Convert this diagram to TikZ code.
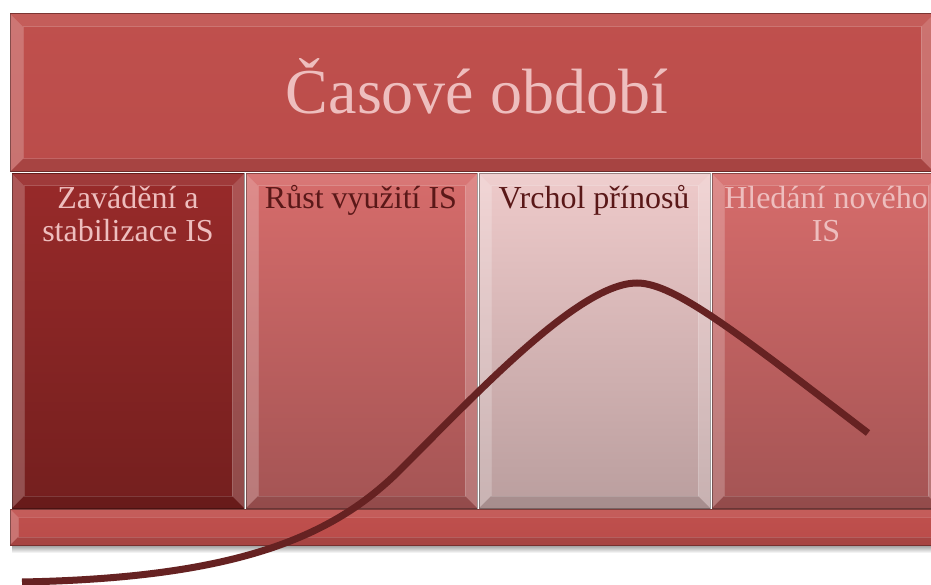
\documentclass[tikz,border=0pt]{standalone}
\usepackage{fontspec}
\setmainfont{Liberation Serif}
\usetikzlibrary{positioning}
\definecolor{bannerred}{RGB}{192,80,77}
\definecolor{bannerlow}{RGB}{186,76,74}
\definecolor{zavtop}{RGB}{152,42,42}
\definecolor{zavlow}{RGB}{116,31,30}
\definecolor{rusttop}{RGB}{214,108,107}
\definecolor{rustlow}{RGB}{164,84,84}
\definecolor{vrchtop}{RGB}{238,202,202}
\definecolor{vrchlow}{RGB}{186,158,158}
\definecolor{lighttext}{RGB}{238,190,190}
\definecolor{darktext}{RGB}{90,24,24}
\definecolor{curvecolor}{RGB}{102,34,34}
% box with a bevelled rim: corners (#1,#2),(#3,#4), colours #5/#6, rim #7
\newcommand{\bevelbox}[7]{%
  \shade[top color=#5,bottom color=#6] (#1,#2) rectangle (#3,#4);
  \fill[white,opacity=.22] (#1,#2) -- (#1+#7,#2+#7) -- (#1+#7,#4-#7) -- (#1,#4) -- cycle;
  \fill[white,opacity=.08] (#1,#2) -- (#3,#2) -- (#3-#7,#2+#7) -- (#1+#7,#2+#7) -- cycle;
  \fill[white,opacity=.20] (#3,#2) -- (#3,#4) -- (#3-#7,#4-#7) -- (#3-#7,#2+#7) -- cycle;
  \fill[black,opacity=.10] (#1,#4) -- (#3,#4) -- (#3-#7,#4-#7) -- (#1+#7,#4-#7) -- cycle;
  \draw[white,opacity=.15,line width=1] (#1+#7,#2+#7) rectangle (#3-#7,#4-#7);
  \draw[black,opacity=.35,line width=1] (#1,#2) rectangle (#3,#4);
}

\begin{document}
\begin{tikzpicture}[x=1pt,y=-1pt,
    coltext/.style={anchor=base,align=center,inner sep=0pt,
      font=\fontsize{32}{33}\selectfont}]
  \useasboundingbox (0,0) rectangle (931,585);
  \clip (0,0) rectangle (931,585);
  % shadow under the whole block
  \shade[top color=black!40,bottom color=white] (12,545) rectangle (931,553);
  % banner, the four phases and the bar below
  \bevelbox{10}{14}{934}{172}{bannerred}{bannerlow}{13}
  \bevelbox{12}{174}{244}{508}{zavtop}{zavlow}{12}
  \bevelbox{246}{174}{477}{508}{rusttop}{rustlow}{12}
  \bevelbox{479}{174}{710}{508}{vrchtop}{vrchlow}{12}
  \bevelbox{712}{174}{940}{508}{rusttop}{rustlow}{12}
  \bevelbox{10}{509}{940}{545}{bannerred}{bannerlow}{8}
  \node[anchor=base,inner sep=0pt,text=lighttext,
    font=\fontsize{64}{70}\selectfont] (title) at (477,114) {Časové období};
  \node[coltext,text=lighttext] (zav) at (128,242) {Zavádění a\\stabilizace IS};
  \node[coltext,text=darktext] (rust) at (361,209) {Růst využití IS};
  \node[coltext,text=darktext] (vrchol) at (594,209) {Vrchol přínosů};
  \node[coltext,text=lighttext] (hledani) at (826,242) {Hledání nového\\IS};
  % life cycle curve
  \draw[curvecolor,line width=7] (22,582) .. controls (230,578) and (330,540) .. (400,470)
    .. controls (480,390) and (580,283) .. (637,283)
    .. controls (675,283) and (740,335) .. (868,433);
\end{tikzpicture}
\end{document}
